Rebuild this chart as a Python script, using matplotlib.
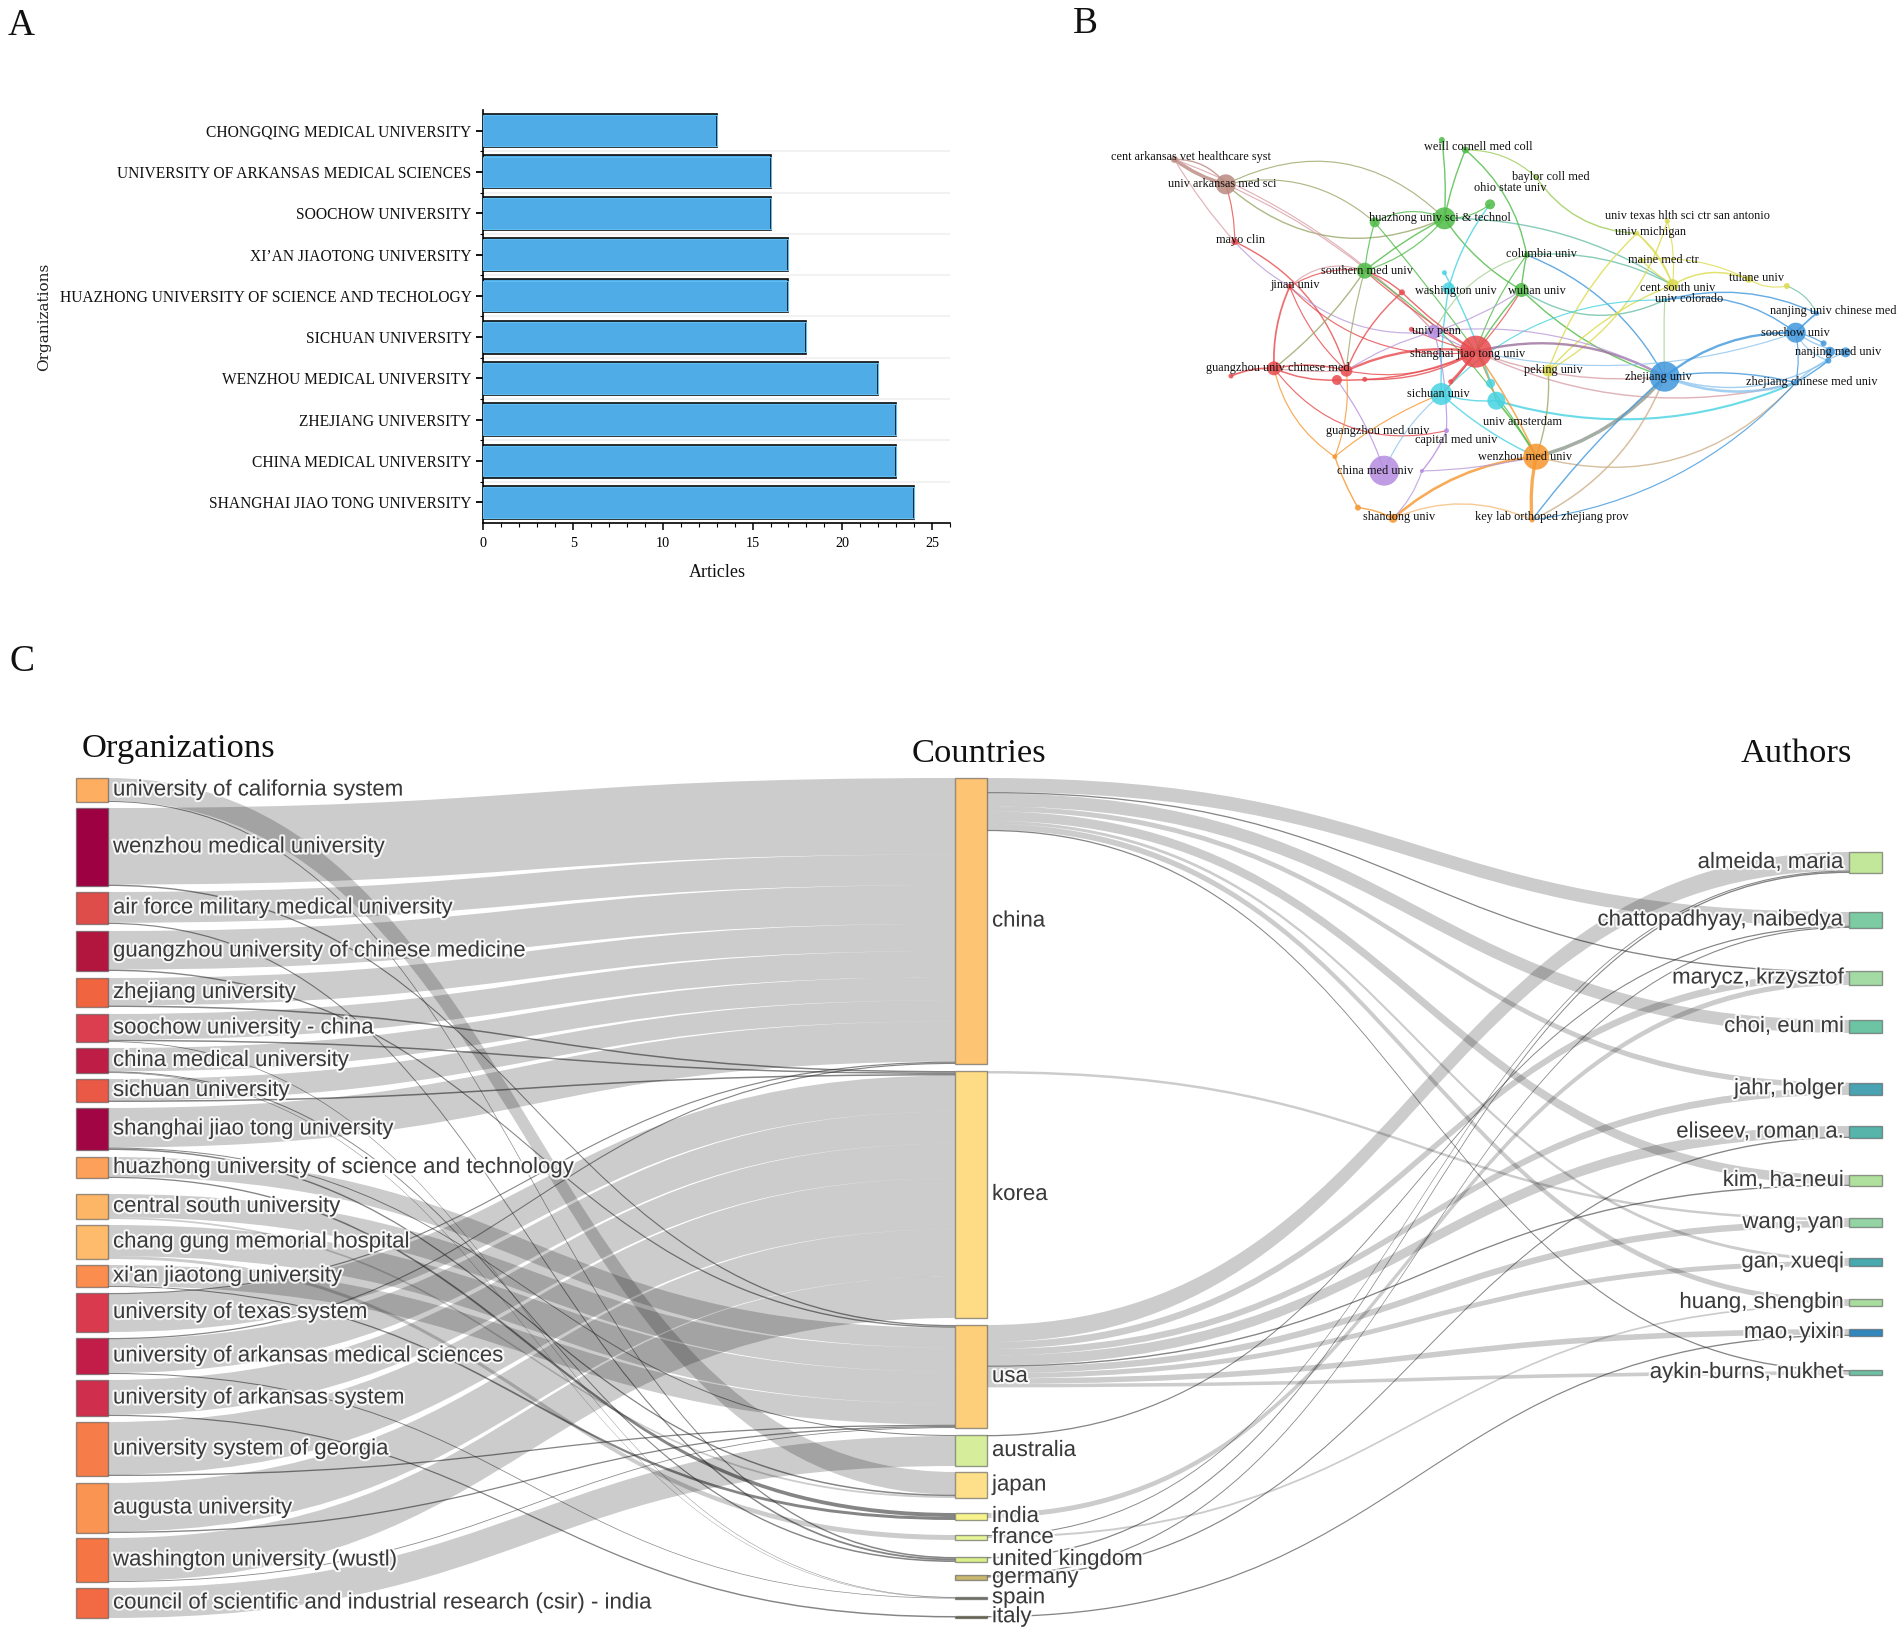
import numpy as np
import matplotlib
matplotlib.use("Agg")
import matplotlib.pyplot as plt
from matplotlib.path import Path
from matplotlib.patches import PathPatch, Rectangle
import matplotlib.patheffects as pe
from matplotlib.ticker import MultipleLocator

W, H = 1902, 1635

# ---------- Panel A data ----------
A_ORGS = ["SHANGHAI JIAO TONG UNIVERSITY", "CHINA MEDICAL UNIVERSITY", "ZHEJIANG UNIVERSITY",
          "WENZHOU MEDICAL UNIVERSITY", "SICHUAN UNIVERSITY",
          "HUAZHONG UNIVERSITY OF SCIENCE AND TECHOLOGY", "XI\u2019AN JIAOTONG UNIVERSITY",
          "SOOCHOW UNIVERSITY", "UNIVERSITY OF ARKANSAS MEDICAL SCIENCES",
          "CHONGQING MEDICAL UNIVERSITY"]
A_ARTICLES = [24, 23, 23, 22, 18, 17, 17, 16, 16, 13]

# ---------- Panel B data ----------
NET_NAMES = ["cent arkansas vet healthcare syst", "univ arkansas med sci", "mayo clin", "weill cornell med coll", "",
             "baylor coll med", "ohio state univ", "huazhong univ sci & technol", "", "univ texas hlth sci ctr san antonio",
             "univ michigan", "columbia univ", "maine med ctr", "tulane univ", "",
             "southern med univ", "jinan univ", "washington univ", "", "wuhan univ",
             "cent south univ", "univ colorado", "", "", "univ penn",
             "nanjing univ chinese med", "soochow univ", "nanjing med univ", "", "",
             "", "shanghai jiao tong univ", "guangzhou univ chinese med", "", "",
             "", "", "", "peking univ", "zhejiang univ",
             "zhejiang chinese med univ", "sichuan univ", "", "univ amsterdam", "guangzhou med univ",
             "capital med univ", "wenzhou med univ", "china med univ", "", "shandong univ",
             "", "key lab orthoped zhejiang prov"]
NET_X = [180, 278, 295, 735, 690, 870, 782, 695, 562, 1120, 1062, 852, 1070, 1275, 1348,
         543, 400, 703, 695, 842, 1130, 1115, 614, 632, 675, 1405, 1365, 1460, 1430, 1418,
         1427, 755, 370, 288, 508, 490, 543, 707, 893, 1115, 1365, 689, 783, 794, 486,
         699, 870, 580, 652, 597, 530, 862]
NET_Y = [118, 193, 365, 90, 60, 172, 253, 295, 307, 303, 340, 405, 420, 478, 498,
         452, 500, 505, 458, 510, 495, 540, 517, 628, 635, 580, 638, 697, 695, 670,
         722, 695, 745, 768, 752, 780, 778, 785, 752, 770, 788, 822, 790, 842, 1010,
         932, 1010, 1052, 1053, 1195, 1163, 1200]
NET_R = [3.5, 10, 3.5, 3.5, 3, 2.5, 5, 11, 5, 2.5, 2.5, 3, 2.5, 3.5, 3,
         8, 3, 6, 2.5, 7, 6, 2, 3, 2.5, 7, 2.5, 10, 5, 5, 3,
         3, 16, 7, 2.5, 6, 5, 2.5, 2.5, 6, 15, 3, 11, 4.5, 9, 2.5,
         2.5, 13, 15, 2, 4.5, 3, 2.5]
NET_CLUSTER = ["brown", "brown", "red", "green", "green", "lime", "green", "green", "green", "yellow",
               "yellow", "green", "yellow", "yellow", "yellow", "green", "red", "cyan", "cyan", "green",
               "yellow", "cyan", "red", "red", "purple", "blue", "blue", "blue", "blue", "blue",
               "blue", "red", "red", "red", "red", "red", "red", "red", "yellow", "blue",
               "blue", "cyan", "cyan", "cyan", "orange", "purple", "orange", "purple", "purple", "orange",
               "orange", "orange"]
NET_LX = {0: 212, 1: 272, 2: 306, 3: 760, 5: 898, 6: 820, 7: 686, 9: 1158, 10: 1087, 11: 880, 12: 1113, 13: 1290,
          15: 548, 16: 410, 17: 717, 19: 872, 20: 1140, 21: 1162, 24: 680, 25: 1437, 26: 1364, 27: 1445,
          31: 740, 32: 377, 38: 903, 39: 1103, 40: 1395, 41: 684, 43: 844, 44: 567, 45: 717, 46: 848, 47: 563,
          49: 608, 51: 900}
NET_LY = {0: 112, 1: 192, 2: 360, 3: 82, 5: 170, 6: 204, 7: 294, 9: 288, 10: 336, 11: 402, 12: 420, 13: 473,
          15: 452, 16: 494, 17: 512, 19: 512, 20: 503, 21: 538, 24: 634, 25: 572, 26: 638, 27: 697,
          31: 702, 32: 745, 38: 750, 39: 770, 40: 787, 41: 822, 43: 905, 44: 932, 45: 960, 46: 1012, 47: 1052,
          49: 1192, 51: 1192}
# (from, to, curvature, width, cluster)
NET_EDGES = [
    (0, 1, .10, 3.0, "brown"), (0, 1, -.25, 1.2, "brown"), (0, 2, .05, 1.0, "pink"), (0, 24, -.12, 1.0, "pink"),
    (1, 8, -.25, 1.0, "olive"), (1, 7, .32, 1.2, "olive"), (1, 24, -.10, 1.0, "pink"), (1, 2, -.08, 1.0, "red"),
    (1, 7, -.35, 1.0, "olive"), (2, 16, .08, 1.0, "mauve"), (2, 34, -.22, 1.2, "red"), (16, 15, -.30, 1.0, "pink"),
    (16, 15, -.18, 1.0, "red"), (16, 32, .12, 1.5, "red"), (16, 34, .12, 1.0, "red"), (16, 24, .22, 1.0, "mauve"),
    (16, 31, .25, 1.0, "red"), (3, 7, .05, 1.2, "green"), (4, 7, -.05, 1.2, "green"), (3, 5, -.20, 1.0, "lime"),
    (3, 11, -.18, 1.2, "green"), (5, 10, .25, 1.2, "lime"), (7, 15, .05, 1.2, "green"), (7, 15, -.15, 1.0, "green"),
    (7, 8, .25, 1.0, "green"), (7, 6, .18, 1.0, "green"), (7, 19, .12, 1.2, "green"), (7, 20, -.15, 1.2, "teal"),
    (8, 15, .05, 1.0, "green"), (8, 31, -.02, 1.0, "green"), (15, 32, -.08, 1.2, "olive"), (15, 22, -.10, 1.2, "red"),
    (15, 46, -.12, 1.0, "green"), (15, 34, .05, 1.0, "olive"), (15, 31, .05, 1.0, "red"), (17, 6, -.10, 1.2, "cyan"),
    (17, 41, .05, 1.2, "cyan"), (18, 43, -.05, 1.2, "cyan"), (11, 19, .05, 1.2, "green"), (11, 24, .22, 1.0, "lgreen"),
    (11, 31, .08, 1.0, "green"), (11, 39, -.18, 1.2, "blue"), (11, 20, -.15, 1.2, "teal"), (19, 31, .05, 1.2, "green"),
    (19, 31, -.05, 1.0, "red"), (19, 39, .12, 1.2, "green"), (19, 21, .28, 1.2, "teal"), (19, 24, -.08, 1.0, "mauve"),
    (20, 13, -.25, 1.3, "yellow"), (20, 10, .12, 1.0, "yellow"), (20, 9, .10, 1.0, "yellow"), (10, 38, .12, 1.2, "yellow"),
    (9, 38, -.20, 1.2, "yellow"), (12, 13, -.15, 1.0, "yellow"), (13, 14, .20, 1.0, "yellow"), (14, 25, -.20, 1.0, "teal"),
    (20, 38, .12, 1.2, "yellow"), (10, 20, -.15, 1.0, "yellow"), (12, 20, .05, 1.0, "yellow"), (21, 26, -.22, 1.2, "blue"),
    (21, 25, -.18, 1.2, "blue"), (21, 39, .02, 1.0, "lgreen"), (21, 41, .22, 1.0, "cyan"), (31, 39, -.20, 2.0, "mauve2"),
    (31, 40, .18, 1.2, "pink"), (31, 39, .12, 1.2, "pink"), (31, 26, .14, 1.0, "lblue"), (32, 33, .12, 1.5, "red"),
    (32, 34, -.12, 1.3, "red"), (32, 35, .12, 1.3, "red"), (32, 34, .05, 1.0, "pink"), (32, 44, .20, 1.0, "orange"),
    (32, 45, .32, 1.0, "red"), (34, 31, -.15, 2.0, "red"), (35, 31, .12, 1.3, "red"), (36, 31, .15, 1.2, "red"),
    (34, 31, .18, 1.0, "red"), (22, 31, .05, 1.2, "red"), (22, 34, .12, 1.2, "red"), (23, 31, .05, 1.0, "red"),
    (37, 31, .05, 2.0, "red"), (24, 34, .08, 1.0, "mauve"), (24, 31, .05, 1.0, "purple"), (35, 47, -.08, 1.0, "purple"),
    (24, 45, -.08, 1.0, "purple"), (45, 48, -.08, 1.2, "purple"), (41, 31, .05, 1.0, "red"), (41, 46, .08, 1.2, "cyan"),
    (41, 47, .12, 1.0, "lblue"), (42, 31, .05, 1.5, "cyan"), (43, 31, .05, 1.0, "orange"), (43, 46, -.05, 1.5, "green"),
    (43, 40, .18, 1.8, "cyan"), (43, 41, -.10, 1.2, "cyan"), (46, 39, .16, 3.0, "gray"), (46, 31, .05, 1.3, "orange"),
    (46, 51, .08, 2.8, "orange"), (46, 49, .16, 2.2, "orange"), (46, 40, .30, 1.2, "tan"), (46, 38, .10, 1.2, "olive"),
    (46, 48, -.05, 1.0, "mauve"), (51, 39, .20, 1.3, "tan"), (51, 49, .22, 1.2, "lorange"), (49, 50, .10, 1.2, "orange"),
    (50, 44, -.05, 1.2, "orange"), (44, 34, .12, 1.0, "orange"), (44, 41, -.08, 1.0, "orange"), (49, 48, .12, 1.0, "mauve"),
    (39, 26, -.18, 2.0, "blue"), (39, 40, .18, 2.2, "lblue"), (39, 40, -.10, 1.2, "blue"), (39, 30, .22, 1.2, "lblue"),
    (26, 25, -.05, 1.5, "blue"), (26, 27, .12, 1.2, "lblue"), (26, 29, -.10, 1.0, "blue"), (40, 27, -.12, 1.2, "lblue"),
    (40, 30, .05, 1.2, "blue"), (40, 26, .10, 1.0, "blue"), (40, 51, -.18, 1.0, "blue"), (39, 51, .05, 1.2, "blue"),
    (26, 30, .20, 1.0, "lblue"), (28, 27, .25, 1.0, "lblue"), (39, 24, .16, 1.0, "mauve"),
]
NET_COLORS = {"red": "#e84a4d", "green": "#4dbb45", "blue": "#3f97dc", "yellow": "#dbdb4f", "purple": "#b58be0",
              "cyan": "#45d3e2", "orange": "#f6962d", "brown": "#b98a80", "lime": "#9ccc55", "pink": "#d9a0a8",
              "olive": "#9aa86a", "mauve": "#b89ad8", "teal": "#6cc0a8", "lgreen": "#a5cf8f", "mauve2": "#9a6f9c",
              "gray": "#8e9a8e", "tan": "#cdb08a", "lorange": "#f7bd7a", "lblue": "#8cc4ee"}

# ---------- Panel C data ----------
ORGS = ["university of california system", "wenzhou medical university", "air force military medical university",
        "guangzhou university of chinese medicine", "zhejiang university", "soochow university - china",
        "china medical university", "sichuan university", "shanghai jiao tong university",
        "huazhong university of science and technology", "central south university", "chang gung memorial hospital",
        "xi'an jiaotong university", "university of texas system", "university of arkansas medical sciences",
        "university of arkansas system", "university system of georgia", "augusta university",
        "washington university (wustl)", "council of scientific and industrial research (csir) - india"]
ORG_TOP = [778, 808, 892, 931, 978, 1014, 1048, 1079, 1108, 1157, 1194, 1225, 1265, 1293, 1338, 1380, 1422, 1483, 1538, 1588]
ORG_BOT = [802, 886, 924, 971, 1007, 1042, 1073, 1102, 1150, 1178, 1219, 1259, 1287, 1332, 1374, 1416, 1476, 1533, 1582, 1618]
ORG_COL = ["#fdae61", "#9e0142", "#df4d4b", "#b2163f", "#f0643f", "#db3f4f", "#be1e45", "#e95945", "#a20543", "#fda15a",
           "#fdb666", "#fdbb6b", "#fb8d4f", "#d93a4e", "#c21d48", "#cf2f4d", "#f67d4a", "#fa9452", "#f57545", "#f26a43"]
COUNTRIES = ["china", "korea", "usa", "australia", "japan", "india", "france", "united kingdom", "germany", "spain", "italy"]
CTY_TOP = [778, 1071, 1325, 1435, 1472, 1513, 1535, 1557, 1575, 1597, 1616]
CTY_BOT = [1064, 1318, 1428, 1466, 1498, 1520, 1540, 1562, 1580, 1598.5, 1617.5]
CTY_COL = ["#fdc573", "#fedb85", "#fecf7a", "#d6ee9b", "#fee08b", "#f7f48e", "#e6f598", "#d9ef8b", "#c9b870", "#777766", "#666644"]
AUTHORS = ["almeida, maria", "chattopadhyay, naibedya", "marycz, krzysztof", "choi, eun mi", "jahr, holger",
           "eliseev, roman a.", "kim, ha-neui", "wang, yan", "gan, xueqi", "huang, shengbin", "mao, yixin", "aykin-burns, nukhet"]
AUT_TOP = [852, 912, 971, 1020, 1082.5, 1126, 1175, 1218, 1258, 1299, 1329, 1370]
AUT_BOT = [873, 928, 985, 1033, 1095, 1138, 1186, 1227, 1266, 1306, 1336, 1375]
AUT_COL = ["#c3e79a", "#7ccba2", "#a4dba4", "#6cc4a4", "#4aa3b2", "#56b4ab", "#b0e09e", "#94d4a4", "#48a9ae", "#a8dd9f", "#3288bd", "#70c0a4"]
# (organization, country, weight)
ORG_FLOWS = [
    (0, 4, 22), (0, 7, 1.0), (1, 0, 76), (1, 2, 1.4), (2, 0, 30.5), (2, 7, 1.2), (3, 0, 38.5), (3, 2, 1.4),
    (4, 0, 27), (4, 1, 1.5), (5, 0, 26), (5, 1, 1.5), (5, 9, .8), (6, 0, 23), (6, 7, 1.0), (6, 9, .6), (7, 0, 21), (7, 1, 1.5),
    (8, 0, 40), (8, 4, 1.5), (8, 3, 1.0), (9, 2, 20), (9, 5, 1.3), (10, 2, 24), (10, 4, 1.8), (11, 2, 32), (11, 6, 3.0),
    (12, 2, 21), (12, 5, 1.0), (13, 0, 1.2), (13, 1, 36), (14, 0, 1.2), (14, 1, 32), (14, 9, 1.0), (15, 1, 34.5), (15, 10, 1.2),
    (16, 1, 51), (16, 2, 1.3), (17, 1, 47), (17, 2, 1.3), (18, 1, 41.5), (18, 2, .8), (19, 3, 30),
]
# (country, author, weight)
AUT_FLOWS = [
    (0, 1, 14), (0, 2, 1.3), (0, 3, 13), (0, 4, 5), (0, 6, 9.5), (0, 8, 3), (0, 9, 6), (0, 11, 1.3),
    (1, 7, 2.5),
    (2, 0, 17), (2, 2, 7), (2, 4, 6.5), (2, 5, 10), (2, 6, 1.4), (2, 7, 6.5), (2, 8, 5), (2, 10, 5.5), (2, 11, 3.5),
    (3, 1, 1.3), (5, 2, 5), (6, 9, 2), (7, 0, 1.3), (8, 1, 1.2), (8, 5, 1.3), (10, 10, 1.3), (6, 0, 1.0),
]

# ---------- Figure ----------
plt.rcParams["font.family"] = ["Liberation Serif", "DejaVu Serif"]
fig = plt.figure(figsize=(W / 100, H / 100), dpi=100, facecolor="white")

def axes_px(x0, y0, x1, y1, **kw):
    return fig.add_axes([x0 / W, 1 - y1 / H, (x1 - x0) / W, (y1 - y0) / H], **kw)

bg = axes_px(0, 0, W, H)
bg.set_xlim(0, W); bg.set_ylim(H, 0); bg.axis("off")
for t, x, y in [("A", 21, 26), ("B", 1085, 24), ("C", 22, 662)]:
    bg.text(x, y, t, fontsize=27, ha="center", va="center", color="#111")

# ---------- Panel A ----------
ax = axes_px(483.4, 110, 950, 523)
pos = np.arange(len(A_ORGS))
ax.set_xlim(0, 26); ax.set_ylim(-.5, 9.5)
for p in pos[:-1]:
    ax.axhline(p + .5, color="#f2f2f2", lw=1.5, zorder=0)
ax.barh(pos, A_ARTICLES, height=.8, color="#50ace6", edgecolor="#0a0a0a", linewidth=1.2, zorder=2)
ax.barh(pos, A_ARTICLES, height=.74, color="none", edgecolor="#62bdf2", linewidth=.8, zorder=3)
ax.set_yticks(pos); ax.set_yticklabels(A_ORGS, fontsize=11.2, color="#111")
ax.set_yticks(pos[:-1] + .5, minor=True)
ax.tick_params(axis="y", which="major", length=5, width=1.3, pad=3.5)
ax.tick_params(axis="y", which="minor", length=2.5, width=.8)
ax.xaxis.set_major_locator(MultipleLocator(5)); ax.xaxis.set_minor_locator(MultipleLocator(1))
ax.tick_params(axis="x", which="major", length=5, width=1.1, labelsize=10.2, pad=5)
ax.tick_params(axis="x", which="minor", length=3, width=.8)
for s in ("top", "right"):
    ax.spines[s].set_visible(False)
for s in ("left", "bottom"):
    ax.spines[s].set_linewidth(1.2)
bg.text(717, 572, "Articles", fontsize=13, ha="center", va="center", color="#111")
bg.text(44, 317, "Organizations", fontsize=11, rotation=90, ha="center", va="center", color="#222",
        family=["DejaVu Serif"])

# ---------- Panel B ----------
NX, NY = 1.907, 3.0
bx = axes_px(1080, 120, 1902, 540)
bx.set_xlim(0, 822); bx.set_ylim(420, 0); bx.axis("off")
nx = np.array(NET_X) / NX
ny = np.array(NET_Y) / NY
for a, b, rad, lw, c in NET_EDGES:
    xa, ya, xb, yb = nx[a], ny[a], nx[b], ny[b]
    mx, my = (xa + xb) / 2 - rad * (yb - ya), (ya + yb) / 2 + rad * (xb - xa)
    bx.add_patch(PathPatch(Path([(xa, ya), (mx, my), (xb, yb)], [Path.MOVETO, Path.CURVE3, Path.CURVE3]),
                           fc="none", ec=NET_COLORS[c], lw=lw * .85, alpha=.8, zorder=1))
bx.scatter(nx, ny, s=(2 * np.array(NET_R) * .72) ** 2, c=[NET_COLORS[c] for c in NET_CLUSTER],
           alpha=.85, linewidths=0, zorder=2)
for i, nm in enumerate(NET_NAMES):
    if nm:
        bx.text(NET_LX[i] / NX, NET_LY[i] / NY, nm, fontsize=8.8, ha="center", va="center", color="#111", zorder=3)

# ---------- Panel C (Sankey) ----------
sx = bg
ORG_X = (76, 108); CTY_X = (955, 987); AUT_X = (1849, 1882)

def ribbon(x0, y0a, y0b, x1, y1a, y1b, dark):
    xm = (x0 + x1) / 2
    verts = [(x0, y0a), (xm, y0a), (xm, y1a), (x1, y1a), (x1, y1b), (xm, y1b), (xm, y0b), (x0, y0b), (x0, y0a)]
    codes = [Path.MOVETO, Path.CURVE4, Path.CURVE4, Path.CURVE4, Path.LINETO, Path.CURVE4, Path.CURVE4, Path.CURVE4, Path.CLOSEPOLY]
    if dark:
        sx.add_patch(PathPatch(Path(verts, codes), fc="#222222", ec="none", alpha=.55, zorder=2))
    else:
        sx.add_patch(PathPatch(Path(verts, codes), fc="#000000", ec="none", alpha=.2, zorder=2))

def draw_links(flows, s_top, s_bot, t_top, t_bot, xs, xt, scale_source):
    n_s, n_t = len(s_top), len(t_top)
    s_sum = np.zeros(n_s); t_sum = np.zeros(n_t)
    for a, b, v in flows:
        s_sum[a] += v; t_sum[b] += v
    s_cur = np.array(s_top, float); t_cur = np.array(t_top, float)
    s_pos, t_pos = {}, {}
    for k in sorted(range(len(flows)), key=lambda k: (flows[k][0], flows[k][1])):
        a, b, v = flows[k]
        w = v * (s_bot[a] - s_top[a]) / s_sum[a] if scale_source else v
        s_pos[k] = (s_cur[a], s_cur[a] + w); s_cur[a] += w
    for k in sorted(range(len(flows)), key=lambda k: (flows[k][1], flows[k][0])):
        a, b, v = flows[k]
        w = v * (t_bot[b] - t_top[b]) / t_sum[b]
        t_pos[k] = (t_cur[b], t_cur[b] + w); t_cur[b] += w
    for k, (a, b, v) in enumerate(flows):
        ribbon(xs, *s_pos[k], xt, *t_pos[k], v < 1.6)

draw_links(ORG_FLOWS, ORG_TOP, ORG_BOT, CTY_TOP, CTY_BOT, ORG_X[1], CTY_X[0], True)
draw_links(AUT_FLOWS, CTY_TOP, CTY_BOT, AUT_TOP, AUT_BOT, CTY_X[1], AUT_X[0], False)

halo = [pe.withStroke(linewidth=3, foreground="white", alpha=.85)]
def nodes(names, tops, bots, cols, xr):
    for nm, t, b, c in zip(names, tops, bots, cols):
        sx.add_patch(Rectangle((xr[0], t), xr[1] - xr[0], b - t, fc=c, ec="#55555599", lw=1, zorder=3))
nodes(ORGS, ORG_TOP, ORG_BOT, ORG_COL, ORG_X)
nodes(COUNTRIES, CTY_TOP, CTY_BOT, CTY_COL, CTY_X)
nodes(AUTHORS, AUT_TOP, AUT_BOT, AUT_COL, AUT_X)
TXT = dict(fontsize=16, va="center", color="#3a3a3a", family=["Liberation Sans"], path_effects=halo, zorder=5)
for nm, t, b in zip(ORGS, ORG_TOP, ORG_BOT):
    sx.text(113, (t + b) / 2, nm, ha="left", **TXT)
for nm, t, b in zip(COUNTRIES, CTY_TOP, CTY_BOT):
    sx.text(992, (t + b) / 2, nm, ha="left", **TXT)
for nm, t, b in zip(AUTHORS, AUT_TOP, AUT_BOT):
    sx.text(1844, (t + b) / 2, nm, ha="right", **TXT)
for t, x, y in [("Organizations", 178, 749), ("Countries", 979, 754), ("Authors", 1796, 754)]:
    sx.text(x, y, t, fontsize=24.8, ha="center", va="center", color="#111", zorder=5)

fig.savefig("out.png", dpi=100, facecolor="white")
